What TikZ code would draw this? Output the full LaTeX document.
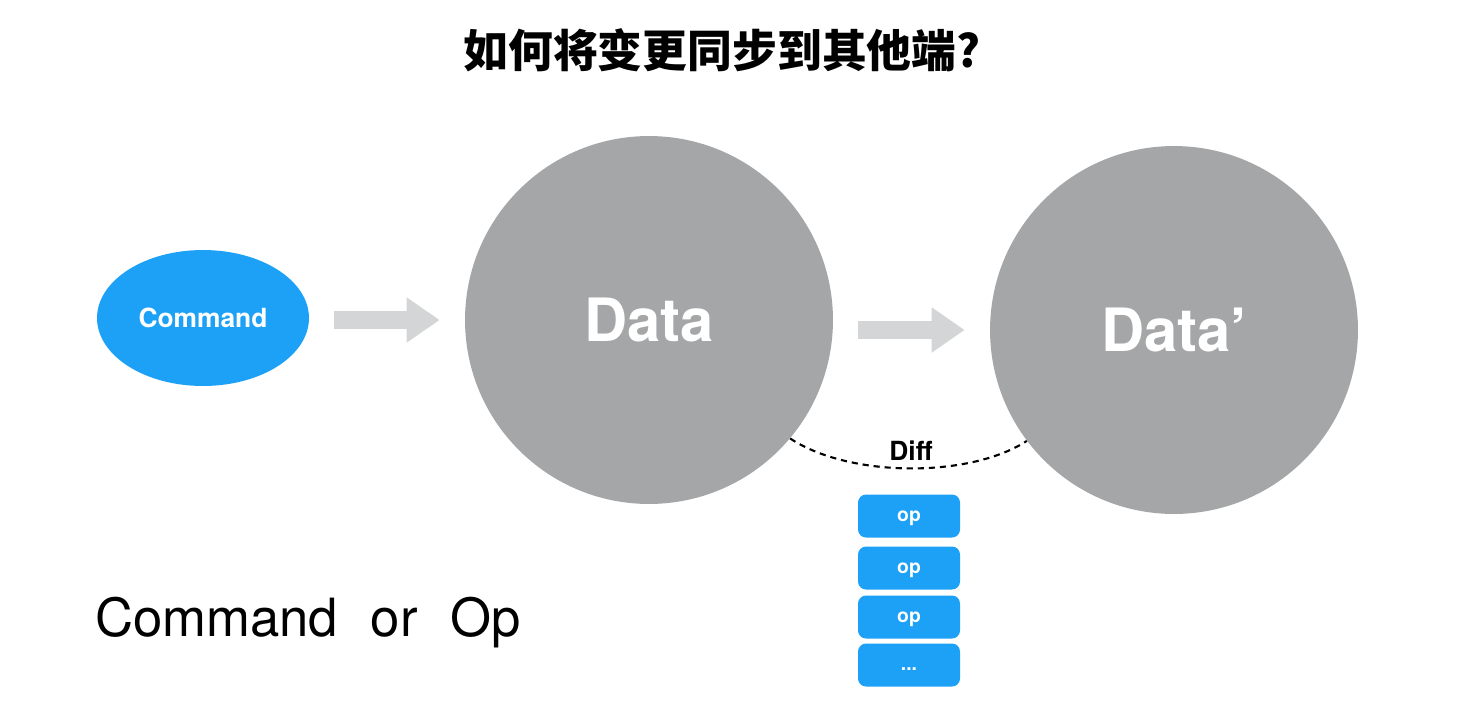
\documentclass[tikz,border=0pt]{standalone}
\usepackage{fontspec}
\setmainfont{TeX Gyre Heros}
\newfontfamily\cjk{Noto Sans CJK SC}
\usetikzlibrary{arrows.meta,shapes.geometric}
\definecolor{cmdblue}{HTML}{1DA1F7}
\definecolor{datagray}{HTML}{A5A6A7}
\definecolor{arrowgray}{HTML}{D4D5D6}
\newcommand{\opdots}{...}

\begin{document}
\begin{tikzpicture}[x=0.02cm,y=-0.02cm,
	datablob/.style={circle,fill=datagray,text=white,inner sep=0pt,minimum size=7.36cm,font=\fontsize{34}{40}\selectfont\bfseries},
	opbox/.style={rectangle,rounded corners=0.16cm,fill=cmdblue,text=white,minimum width=2.04cm,minimum height=0.86cm,inner sep=0pt,text height=1.5ex,text depth=0.25ex,font=\fontsize{11}{13}\selectfont\bfseries},
	bigarrow/.style={arrowgray,line width=0.36cm,-{Triangle[length=0.66cm,width=0.86cm]},shorten <=0.5cm,shorten >=0.5cm}]
			\useasboundingbox (0,0) rectangle (1466,724);
			% title
			\node (title) at (722,50) {\cjk\fontsize{25.5}{30}\selectfont\bfseries 如何将变更同步到其他端?};
			% command and data
			\node[ellipse,fill=cmdblue,text=white,minimum width=4.24cm,minimum height=2.72cm,inner sep=0pt,font=\fontsize{15}{18}\selectfont\bfseries] (cmd) at (203,318) {Command};
			\node[datablob] (data) at (649,320) {Data};
			\node[datablob] (datap) at (1174,330) {Data’};
			\draw[bigarrow] (cmd.east |- data.west) -- (data.west);
			\draw[bigarrow] (data.east |- datap.west) -- (datap.west);
			% diff
			\draw[line width=1.2pt,dash pattern=on 3.5pt off 2.8pt] (data.-40) .. controls (850,478) and (970,478) .. (datap.217);
			\node[font=\fontsize{15}{18}\selectfont\bfseries] (diff) at (911,451) {Diff};
			% ops
			\foreach \i/\y/\t in {1/516/op,2/568/op,3/617/op,4/665/\opdots}
				\node[opbox] (op\i) at (909,\y) {\t};
			\node[anchor=base west,font=\fontsize{30}{36}\selectfont] (legend) at (89,636) {Command\hspace{0.62em}or\hspace{0.62em}Op};
		\end{tikzpicture}
\end{document}
